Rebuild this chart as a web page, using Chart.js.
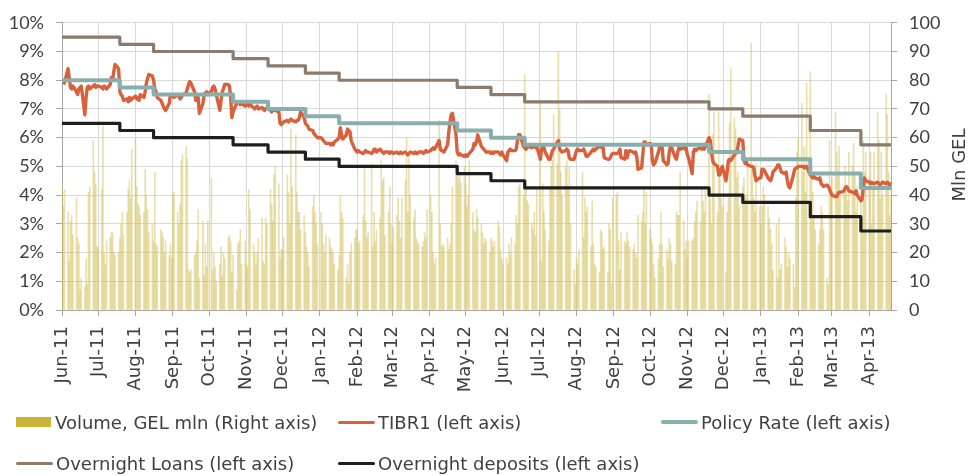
<!DOCTYPE html>
<html>
<head>
<meta charset="utf-8">
<title>TIBR1 and NBG rates</title>
<script src="https://cdn.jsdelivr.net/npm/chart.js@4.4.1/dist/chart.umd.min.js"></script>
<style>
  body { margin: 0; background: #fff; }
  #wrap { position: relative; width: 968px; height: 476px; font-family: "DejaVu Sans", sans-serif; color: #404040; }
  #legend .item { position: absolute; display: flex; align-items: center; height: 24px; font-size: 18px; white-space: nowrap; }
</style>
</head>
<body>
<div id="wrap">
  <canvas id="chart" width="968" height="476"></canvas>
  <div id="legend"></div>
</div>
<script>
// x axis labels, one per month
const monthLabels = ['Jun-11', 'Jul-11', 'Aug-11', 'Sep-11', 'Oct-11', 'Nov-11', 'Dec-11',
    'Jan-12', 'Feb-12', 'Mar-12', 'Apr-12', 'May-12', 'Jun-12', 'Jul-12', 'Aug-12', 'Sep-12',
    'Oct-12', 'Nov-12', 'Dec-12', 'Jan-13', 'Feb-13', 'Mar-13', 'Apr-13'];

// TIBR1, % - one row per month, one value per working day
const tibr1 = [
    [8.0, 7.95, 7.9, 8.4, 8.1, 7.75, 7.7, 7.8, 7.6, 7.5, 7.7, 7.75, 7.8, 6.8, 7.4, 7.75, 7.8, 7.7, 7.8, 7.85, 7.75, 7.8],
    [7.8, 7.75, 7.7, 7.8, 7.75, 7.7, 7.85, 8.1, 8.0, 8.3, 8.55, 8.4, 7.6, 7.5, 7.45, 7.3, 7.35, 7.25, 7.4, 7.3, 7.35],
    [7.45, 7.35, 7.4, 7.3, 7.5, 7.4, 7.6, 7.9, 8.05, 8.2, 8.15, 8.0, 7.7, 7.6, 7.4, 7.3, 7.2, 7.1, 7.0, 6.95, 7.2, 7.5, 7.45],
    [7.45, 7.4, 7.5, 7.45, 7.35, 7.4, 7.5, 7.55, 7.7, 7.85, 7.95, 7.9, 7.6, 7.3, 7.5, 7.4, 6.85, 7.2, 7.5, 7.55, 7.6, 7.55],
    [7.6, 7.75, 7.8, 7.7, 7.5, 6.95, 7.3, 7.6, 7.7, 7.85, 7.85, 7.8, 7.4, 6.7, 6.9, 7.2, 7.25, 7.2, 7.15, 7.2, 7.1],
    [7.15, 7.2, 7.1, 7.15, 7.05, 7.0, 7.05, 7.1, 7.0, 7.05, 7.0, 6.95, 7.0, 7.05, 6.95, 6.9, 6.95, 7.0, 6.95, 6.9, 6.5, 6.45],
    [6.5, 6.55, 6.6, 6.55, 6.6, 6.65, 6.6, 6.55, 6.6, 6.6, 6.7, 6.9, 6.7, 6.5, 6.45, 6.4, 6.3, 6.25, 6.15, 6.1, 6.05, 6.0],
    [6.0, 5.95, 5.9, 5.85, 5.8, 5.8, 5.75, 5.8, 5.75, 5.85, 5.95, 6.0, 6.35, 6.1, 5.95, 6.1, 6.3, 6.25, 6.2, 5.9, 5.6, 5.55],
    [5.5, 5.55, 5.5, 5.45, 5.5, 5.55, 5.5, 5.5, 5.45, 5.5, 5.6, 5.6, 5.5, 5.6, 5.55, 5.5, 5.45, 5.5, 5.5, 5.45, 5.5],
    [5.5, 5.45, 5.5, 5.45, 5.45, 5.5, 5.45, 5.5, 5.45, 5.4, 5.45, 5.5, 5.45, 5.5, 5.45, 5.45, 5.5, 5.5, 5.45, 5.5, 5.55, 5.5],
    [5.55, 5.6, 5.65, 5.6, 5.65, 5.9, 5.6, 5.55, 5.55, 5.5, 5.75, 6.2, 6.55, 6.8, 6.85, 6.1, 5.5, 5.4, 5.45, 5.4, 5.35],
    [5.4, 5.35, 5.4, 5.45, 5.6, 5.8, 5.75, 5.85, 6.1, 5.7, 5.65, 5.6, 5.55, 5.5, 5.5, 5.45, 5.5, 5.45, 5.5, 5.5, 5.45, 5.4, 5.5],
    [5.4, 5.2, 5.5, 5.55, 5.6, 5.55, 5.55, 5.6, 5.9, 6.1, 6.1, 5.7, 5.65, 5.6, 5.65, 5.7, 5.65, 5.7, 5.7, 5.65, 5.7],
    [5.25, 5.6, 5.7, 5.65, 5.5, 5.25, 5.25, 5.4, 5.55, 5.6, 5.85, 5.9, 5.6, 5.55, 5.5, 5.55, 5.6, 5.55, 5.3, 5.25, 5.25, 5.4],
    [5.55, 5.6, 5.55, 5.55, 5.6, 5.5, 5.35, 5.35, 5.5, 5.55, 5.6, 5.55, 5.6, 5.7, 5.7, 5.65, 5.7, 5.3, 5.25, 5.25, 5.3, 5.4, 5.45],
    [5.45, 5.45, 5.5, 5.6, 5.3, 5.25, 5.55, 5.3, 5.5, 5.55, 5.5, 5.45, 5.5, 5.35, 4.9, 4.95, 5.4, 5.85, 5.85, 5.75],
    [5.8, 5.75, 5.2, 5.05, 5.1, 5.5, 5.7, 5.65, 5.7, 5.2, 5.05, 5.1, 5.5, 5.7, 5.65, 5.3, 5.25, 5.5, 5.65, 5.6, 5.65, 5.6, 5.65],
    [5.4, 5.3, 4.75, 5.5, 5.6, 5.55, 5.6, 5.65, 5.6, 5.65, 5.6, 5.7, 6.0, 5.9, 5.5, 5.2, 5.1, 5.0, 4.7, 4.7, 4.9, 5.0],
    [4.5, 4.8, 5.2, 5.25, 5.2, 5.4, 5.45, 5.5, 5.7, 5.95, 5.9, 5.2, 5.1, 5.15, 5.05, 5.0, 5.0, 4.95, 4.7, 4.5, 4.6],
    [4.6, 4.9, 4.9, 4.85, 4.6, 4.55, 4.5, 4.6, 4.8, 4.95, 5.05, 5.05, 4.95, 4.8, 4.75, 4.8, 4.5, 4.3, 4.25, 4.7, 4.9, 4.95, 4.95],
    [5.0, 5.0, 5.0, 4.95, 5.0, 5.0, 4.7, 4.65, 4.6, 4.65, 4.6, 4.55, 4.6, 4.4, 4.35, 4.3, 4.35, 4.3, 4.2, 4.1],
    [4.0, 3.95, 3.95, 4.05, 4.1, 4.1, 4.15, 4.25, 4.3, 4.25, 4.15, 4.1, 4.1, 4.05, 4.15, 4.0, 3.8, 3.85, 4.3, 4.6, 4.5],
    [4.45, 4.4, 4.45, 4.4, 4.4, 4.45, 4.4, 4.35, 4.4, 4.45, 4.4, 4.45, 4.4, 4.35, 4.4]
];

// interbank volume, GEL mln - same layout as tibr1
const volume = [
    [43, 36, 42, 34, 17, 31, 33, 26, 39, 25, 23, 7, 11, 8, 18, 9, 41, 43, 59, 48, 44, 22],
    [22, 42, 64, 20, 16, 24, 25, 27, 27, 20, 19, 20, 25, 30, 34, 26, 34, 42, 45, 39, 56],
    [60, 43, 37, 36, 33, 34, 49, 40, 35, 27, 30, 24, 48, 23, 22, 28, 27, 25, 20, 24, 19, 23, 18],
    [40, 41, 34, 30, 37, 52, 54, 57, 53, 14, 13, 14, 19, 20, 24, 35, 11, 31, 12, 23, 15, 31],
    [46, 14, 20, 15, 10, 16, 22, 12, 20, 18, 25, 26, 24, 13, 19, 7, 23, 24, 28, 16, 24],
    [16, 15, 42, 35, 23, 20, 16, 20, 25, 32, 17, 16, 32, 30, 42, 37, 31, 47, 50, 44, 18, 21],
    [21, 25, 47, 41, 30, 63, 43, 61, 41, 34, 34, 28, 33, 27, 22, 20, 15, 36, 40, 34, 30, 23],
    [34, 30, 23, 20, 26, 25, 22, 21, 20, 16, 14, 19, 40, 34, 32, 11, 16, 9, 20, 23, 25, 28],
    [28, 23, 24, 33, 50, 31, 25, 27, 51, 22, 34, 24, 28, 32, 52, 45, 46, 26, 34, 43, 30],
    [23, 29, 33, 39, 31, 25, 39, 45, 60, 34, 53, 40, 32, 35, 25, 24, 23, 22, 24, 27, 25, 35],
    [40, 34, 20, 16, 18, 66, 30, 22, 23, 22, 25, 21, 23, 30, 43, 52, 47, 46, 48, 44, 50],
    [44, 36, 40, 52, 34, 28, 27, 35, 32, 30, 27, 23, 25, 24, 20, 25, 24, 22, 24, 31, 29, 21, 18],
    [16, 18, 16, 23, 19, 25, 23, 33, 30, 43, 44, 40, 82, 45, 38, 37, 30, 28, 34, 26, 42],
    [72, 17, 44, 34, 28, 24, 42, 50, 52, 68, 51, 90, 70, 48, 40, 50, 52, 43, 50, 30, 14, 9],
    [18, 16, 21, 48, 25, 39, 34, 36, 22, 38, 23, 16, 15, 13, 28, 27, 21, 22, 13, 30, 28, 9, 39],
    [40, 41, 24, 14, 27, 24, 23, 27, 24, 22, 21, 23, 20, 18, 33, 31, 34, 43, 30, 41],
    [28, 25, 23, 16, 11, 18, 23, 34, 23, 15, 21, 18, 25, 23, 17, 16, 34, 33, 33, 48, 31, 21, 24],
    [18, 24, 24, 25, 31, 34, 38, 31, 42, 38, 34, 42, 75, 39, 30, 61, 69, 34, 69, 46, 39, 36],
    [13, 34, 39, 65, 84, 67, 63, 46, 48, 36, 43, 46, 39, 40, 50, 93, 50, 39, 34, 51, 36],
    [30, 36, 43, 40, 36, 32, 28, 23, 14, 30, 11, 32, 14, 16, 25, 22, 15, 20, 18, 16, 8, 39, 55],
    [60, 72, 48, 57, 41, 79, 83, 50, 41, 32, 28, 23, 28, 36, 34, 28, 11, 9, 59, 43],
    [46, 69, 55, 48, 57, 40, 41, 50, 41, 38, 55, 50, 58, 48, 34, 43, 39, 32, 59, 48, 55],
    [46, 55, 30, 43, 55, 69, 59, 39, 55, 40, 75, 68, 48, 33, 40]
];

// NBG rates: date of each change and the new level, %
const rateDates = ['2011-06-01', '2011-07-19', '2011-08-16', '2011-10-21', '2011-11-19', '2011-12-20',
    '2012-01-17', '2012-04-24', '2012-05-22', '2012-06-19', '2012-11-19', '2012-12-17', '2013-02-11', '2013-03-25'];
const policyRate = [8.0, 7.75, 7.5, 7.25, 7.0, 6.75, 6.5, 6.25, 6.0, 5.75, 5.5, 5.25, 4.75, 4.25];
const overnightLoans = [9.5, 9.25, 9.0, 8.75, 8.5, 8.25, 8.0, 7.75, 7.5, 7.25, 7.0, 6.75, 6.25, 5.75];
const overnightDeposits = [6.5, 6.25, 6.0, 5.75, 5.5, 5.25, 5.0, 4.75, 4.5, 4.25, 4.0, 3.75, 3.25, 2.75];
const lastDate = '2013-04-19';

// x is counted in days from 1 Jun 2011
const DAY = 86400000;
const start = Date.UTC(2011, 5, 1);
const toX = (s) => (Date.parse(s) - start) / DAY;
const endX = toX(lastDate);
const monthX = (i) => (Date.UTC(2011, 5 + i, 1) - start) / DAY;

// put the daily values on the working days of each month
const tibrPoints = [];
const volPoints = [];
monthLabels.forEach((m, i) => {
    const first = new Date(Date.UTC(2011, 5 + i, 1));
    const y = first.getUTCFullYear(), mo = first.getUTCMonth();
    const days = new Date(Date.UTC(y, mo + 1, 0)).getUTCDate();
    let k = 0;
    for (let d = 1; d <= days && k < tibr1[i].length; d++) {
        const t = Date.UTC(y, mo, d);
        const wd = new Date(t).getUTCDay();
        if (wd === 0 || wd === 6) continue;
        const x = (t - start) / DAY;
        tibrPoints.push({ x: x, y: tibr1[i][k] });
        volPoints.push({ x: x, y: volume[i][k] });
        k++;
    }
});

// step series from the change dates
function steps(vals) {
    const pts = rateDates.map((d, i) => ({ x: toX(d), y: vals[i] }));
    pts.push({ x: endX, y: vals[vals.length - 1] });
    return pts;
}

Chart.defaults.font.family = 'Lato';
Chart.defaults.font.size = 18;
Chart.defaults.color = '#404040';

// rotated title for the right axis (reads bottom to top)
const rightTitle = {
    id: 'rightTitle',
    afterDraw(chart) {
        const c = chart.ctx;
        c.save();
        c.translate(960, 165);
        c.rotate(-Math.PI / 2);
        c.fillStyle = '#404040';
        c.font = '18px "DejaVu Sans"';
        c.textAlign = 'center';
        c.textBaseline = 'middle';
        c.fillText('Mln GEL', 0, 0);
        c.restore();
    }
};

const lineStyle = { type: 'line', pointRadius: 0, borderJoinStyle: 'round', borderCapStyle: 'round', yAxisID: 'y' };

const ctx = document.getElementById('chart').getContext('2d');
const chart = new Chart(ctx, {
    type: 'bar',
    data: {
        datasets: [
            { type: 'bar', label: 'Volume, GEL mln (Right axis)', data: volPoints, yAxisID: 'y1',
              backgroundColor: 'rgba(212,194,90,0.5)', barThickness: 1, order: 5 },
            Object.assign({ label: 'TIBR1 (left axis)', data: tibrPoints, borderColor: '#D9603B', borderWidth: 3.4, order: 4 }, lineStyle),
            Object.assign({ label: 'Policy Rate (left axis)', data: steps(policyRate), stepped: true, borderColor: '#88AEAD', borderWidth: 4, order: 3 }, lineStyle),
            Object.assign({ label: 'Overnight Loans (left axis)', data: steps(overnightLoans), stepped: true, borderColor: '#8C7A6C', borderWidth: 3.2, order: 2 }, lineStyle),
            Object.assign({ label: 'Overnight deposits (left axis)', data: steps(overnightDeposits), stepped: true, borderColor: '#1E1E1E', borderWidth: 3.2, order: 1 }, lineStyle)
        ]
    },
    options: {
        responsive: false,
        animation: false,
        layout: { padding: { top: 17, left: 0, right: 0, bottom: 0 } },
        plugins: { legend: { display: false }, tooltip: { enabled: false } },
        scales: {
            x: {
                type: 'linear', min: 0, max: endX, offset: false,
                grid: { color: '#D9D9D9', tickColor: '#A6A6A6', tickLength: 6, offset: false },
                border: { color: '#A6A6A6' },
                afterBuildTicks: (scale) => { scale.ticks = monthLabels.map((_, i) => ({ value: monthX(i) })); },
                afterFit: (scale) => { scale.height = 166; },
                ticks: { autoSkip: false, minRotation: 90, maxRotation: 90, padding: 10,
                         font: { family: 'DejaVu Sans', size: 18 },
                         callback: (v, i) => monthLabels[i] }
            },
            y: {
                position: 'left', min: 0, max: 10,
                grid: { color: '#D9D9D9', tickColor: '#A6A6A6', tickLength: 6 },
                border: { color: '#A6A6A6' },
                afterFit: (scale) => { scale.width = 62; },
                ticks: { stepSize: 1, padding: 12, callback: (v) => v + '%' }
            },
            y1: {
                position: 'right', min: 0, max: 100,
                grid: { drawOnChartArea: false, tickColor: '#A6A6A6', tickLength: 6 },
                border: { color: '#A6A6A6' },
                afterFit: (scale) => { scale.width = 77; },
                ticks: { stepSize: 10, padding: 12 }
            }
        }
    },
    plugins: [rightTitle]
});

// legend laid out in a grid like the original
const legendCols = [16, 338, 661];
const legendRows = [410, 451];
const legend = document.getElementById('legend');
chart.data.datasets.forEach((ds, i) => {
    const item = document.createElement('div');
    item.className = 'item';
    item.style.left = legendCols[i % 3] + 'px';
    item.style.top = legendRows[Math.floor(i / 3)] + 'px';
    const mark = document.createElement('span');
    if (ds.type === 'bar') {
        mark.style.cssText = 'display:inline-block;width:35px;height:10px;margin-right:4px;background:#C9B436';
    } else {
        mark.style.cssText = 'display:inline-block;width:37px;height:' + Math.round(ds.borderWidth) +
            'px;margin-right:3px;border-radius:2px;background:' + ds.borderColor;
    }
    item.appendChild(mark);
    item.appendChild(document.createTextNode(ds.label));
    legend.appendChild(item);
});
</script>
</body>
</html>
